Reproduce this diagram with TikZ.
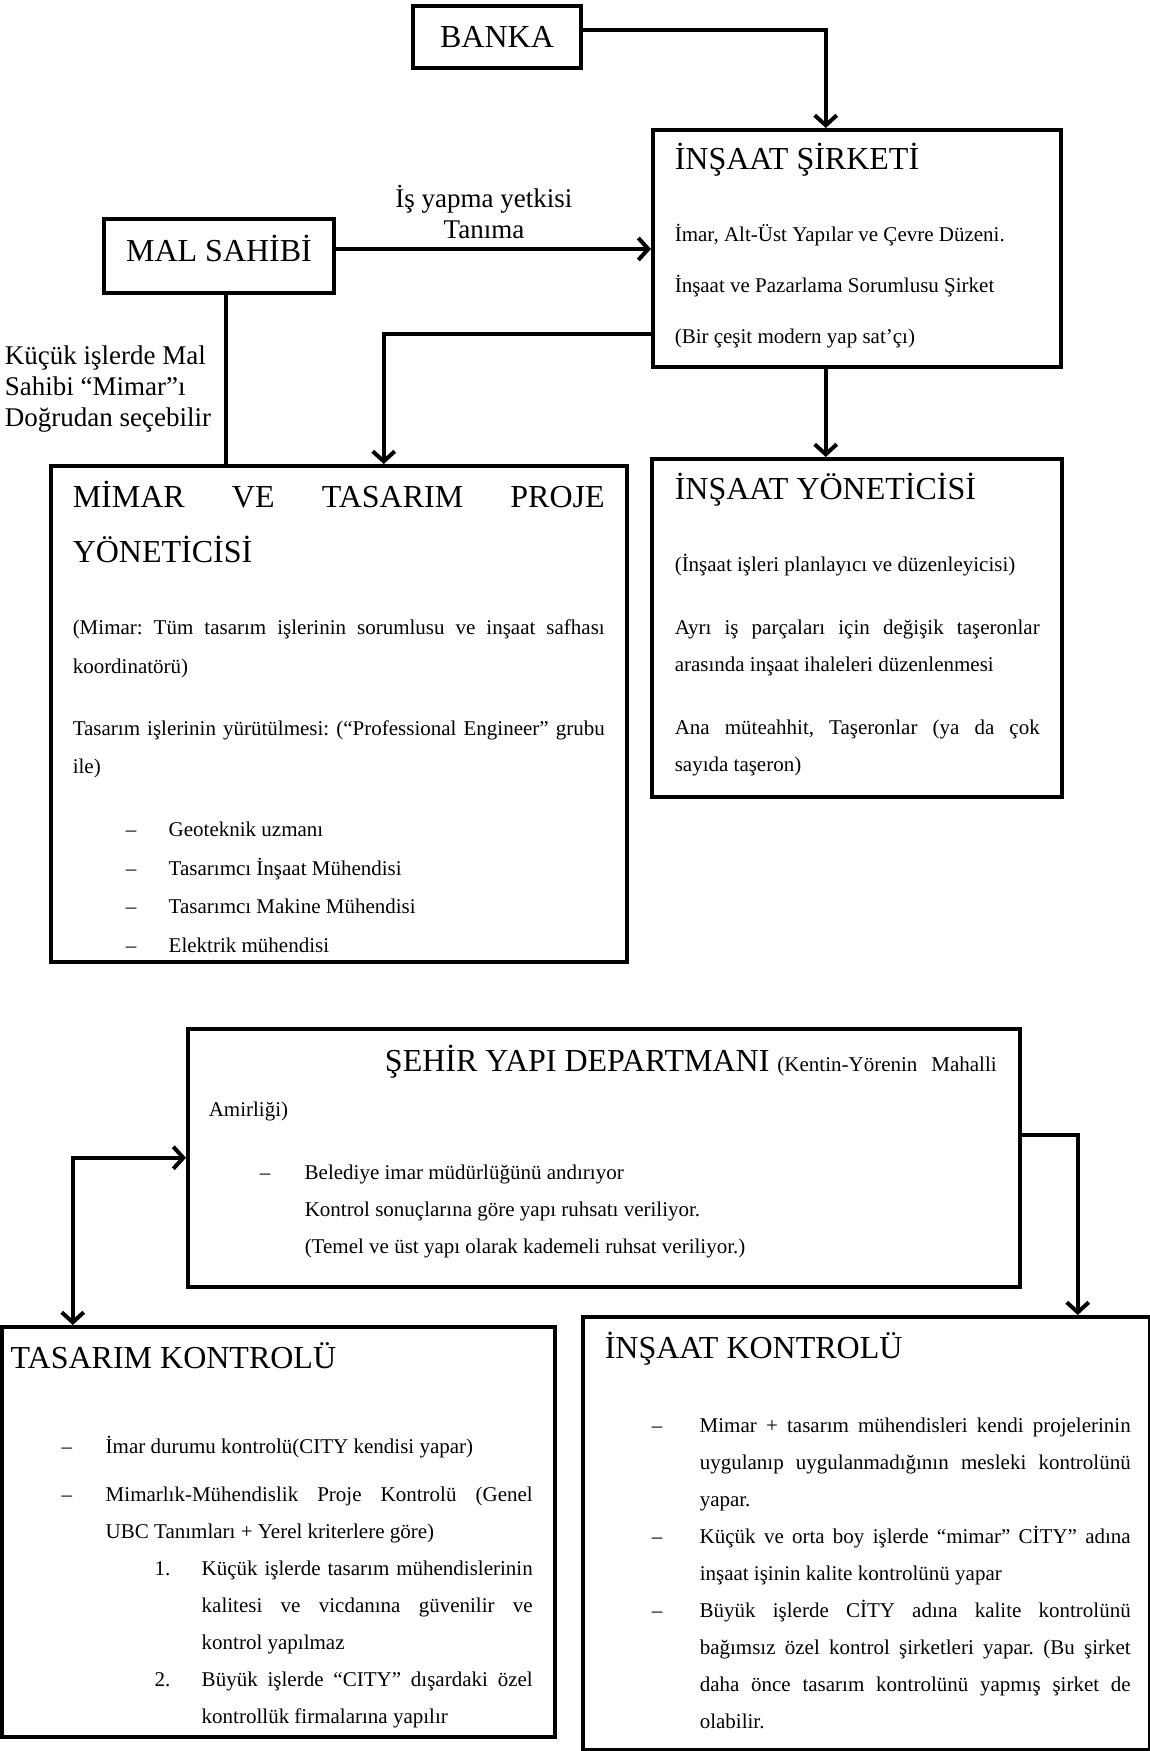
\documentclass[tikz,border=0pt]{standalone}
\usepackage{fontspec}
\setmainfont{Liberation Serif}
\usetikzlibrary{arrows.meta,positioning}

\tolerance=10000
\hyphenpenalty=10000
\hbadness=10000
\vbadness=10000
\frenchspacing

\newcommand{\boxpanel}[4]{\parbox[t][#2][t]{#1}{\rule{0pt}{#3}#4}}
\newcommand{\dashpar}[3]{\par\leftskip=#1\relax\leavevmode\llap{\makebox[#2][l]{#3}}}
\newcommand{\boxhead}{\fontsize{32}{38}\selectfont}
\newcommand{\boxtext}{\fontsize{21}{37}\selectfont}

\begin{document}
\begin{tikzpicture}[x=1pt, y=-1pt,
  panel/.style={draw, line width=3.5pt, inner sep=0pt, anchor=north west},
  namebox/.style={draw, line width=3.5pt, inner sep=0pt, font=\boxhead, text height=21pt, text depth=0pt},
  link/.style={line width=4pt},
  lbl/.style={font=\fontsize{27}{31}\selectfont, inner sep=0pt},
  >={Straight Barb[length=10pt,width=22pt]}]

  \useasboundingbox (0,0) rectangle (1150,1751);

  \node[namebox, minimum width=168pt, minimum height=62pt] (banka) at (497,37) {BANKA};
  \node[namebox, minimum width=230pt, minimum height=74pt, text depth=10pt] (malsahibi) at (219,256) {MAL SAHİBİ};

  \node[panel] (sirket) at (651,128) {\boxpanel{408pt}{237pt}{40pt}{\leftskip=22pt\rightskip=22pt
    \boxhead İNŞAAT ŞİRKETİ\par
    \boxtext\vspace{35pt}İmar, Alt-Üst Yapılar ve Çevre Düzeni.\par
    \vspace{14pt}İnşaat ve Pazarlama Sorumlusu Şirket\par
    \vspace{14pt}(Bir çeşit modern yap sat’çı)\par}};

  \node[panel] (mimar) at (49,464) {\boxpanel{576pt}{496pt}{42pt}{\leftskip=22pt\rightskip=22pt
    \fontsize{32}{55}\selectfont MİMAR\hfill VE\hfill TASARIM\hfill PROJE\\ YÖNETİCİSİ\par
    \fontsize{21}{38.5}\selectfont\vspace{33.5pt}(Mimar: Tüm tasarım işlerinin sorumlusu ve inşaat safhası\linebreak koordinatörü)\par
    \vspace{23.5pt}Tasarım işlerinin yürütülmesi: (“Professional Engineer” grubu\linebreak ile)\par
    \vspace{24.5pt}\dashpar{118pt}{43pt}{–}Geoteknik uzmanı
    \dashpar{118pt}{43pt}{–}Tasarımcı İnşaat Mühendisi
    \dashpar{118pt}{43pt}{–}Tasarımcı Makine Mühendisi
    \dashpar{118pt}{43pt}{–}Elektrik mühendisi\par}};

  \node[panel] (yonetici) at (650,457) {\boxpanel{410pt}{338pt}{41pt}{\leftskip=23pt\rightskip=22pt
    \boxhead İNŞAAT YÖNETİCİSİ\par
    \boxtext\vspace{35pt}(İnşaat işleri planlayıcı ve düzenleyicisi)\par
    \vspace{26pt}Ayrı iş parçaları için değişik taşeronlar\linebreak arasında inşaat ihaleleri düzenlenmesi\par
    \vspace{26pt}Ana müteahhit, Taşeronlar (ya da çok\linebreak sayıda taşeron)\par}};

  \node[panel] (sehir) at (186,1027) {\boxpanel{832pt}{258pt}{43pt}{\leftskip=21pt\rightskip=23pt
    \fontsize{32}{45}\selectfont\hspace*{\fill}ŞEHİR YAPI DEPARTMANI {\fontsize{21}{45}\selectfont (Kentin-Yörenin\hspace{14pt}Mahalli\linebreak Amirliği)}\par
    \boxtext\vspace{26pt}\dashpar{117pt}{45pt}{–}Belediye imar müdürlüğünü andırıyor\\
    Kontrol sonuçlarına göre yapı ruhsatı veriliyor.\\
    (Temel ve üst yapı olarak kademeli ruhsat veriliyor.)\par}};

  \node[panel] (tasarim) at (0,1325) {\boxpanel{553pt}{410pt}{42pt}{\leftskip=9pt\rightskip=22pt
    \boxhead TASARIM KONTROLÜ\par
    \boxtext\vspace{48pt}\dashpar{104pt}{44pt}{–}İmar durumu kontrolü(CITY kendisi yapar)\par
    \vspace{11pt}\dashpar{104pt}{44pt}{–}Mimarlık-Mühendislik Proje Kontrolü (Genel\linebreak UBC Tanımları + Yerel kriterlere göre)\par
    \dashpar{200pt}{47pt}{1.}Küçük işlerde tasarım mühendislerinin\linebreak kalitesi ve vicdanına güvenilir ve\linebreak kontrol yapılmaz\par
    \dashpar{200pt}{47pt}{2.}Büyük işlerde “CITY” dışardaki özel\linebreak kontrollük firmalarına yapılır\par}};

  \node[panel] (kontrol) at (581,1315) {\boxpanel{567pt}{433pt}{42pt}{\leftskip=22pt\rightskip=19pt
    \boxhead İNŞAAT KONTROLÜ\par
    \boxtext\vspace{37pt}\dashpar{117pt}{48pt}{–}Mimar + tasarım mühendisleri kendi projelerinin\linebreak uygulanıp uygulanmadığının mesleki kontrolünü\linebreak yapar.\par
    \dashpar{117pt}{48pt}{–}Küçük ve orta boy işlerde “mimar” CİTY” adına\linebreak inşaat işinin kalite kontrolünü yapar\par
    \dashpar{117pt}{48pt}{–}Büyük işlerde CİTY adına kalite kontrolünü\linebreak bağımsız özel kontrol şirketleri yapar. (Bu şirket\linebreak daha önce tasarım kontrolünü yapmış şirket de\linebreak olabilir.\par}};

  \draw[link,->] ([yshift=7pt]banka.east) -| ([xshift=-31pt]sirket.north);
  \draw[link,->] ([yshift=7pt]malsahibi.east) -- node[lbl, above=8pt, pos=0.47, align=center] (yetki) {İş yapma yetkisi\\Tanıma} ([yshift=7pt]malsahibi.east -| sirket.west);
  \draw[link] ([xshift=7pt]malsahibi.south) -- node[lbl, left=13pt, pos=0.56, align=left] (secim) {Küçük işlerde Mal\\Sahibi “Mimar”ı\\Doğrudan seçebilir} ([xshift=7pt]malsahibi.south |- mimar.north);
  \draw[link,->] ([yshift=-85.5pt]sirket.west) -| ([xshift=45pt]mimar.north);
  \draw[link,->] ([xshift=-31pt]sirket.south) -- ([xshift=-31pt]sirket.south |- yonetici.north);
  \draw[link,<->] (sehir.west) -| ([xshift=-205.5pt]tasarim.north);
  \draw[link,->] ([yshift=23pt]sehir.east) -| ([xshift=211.5pt]kontrol.north);
\end{tikzpicture}
\end{document}
